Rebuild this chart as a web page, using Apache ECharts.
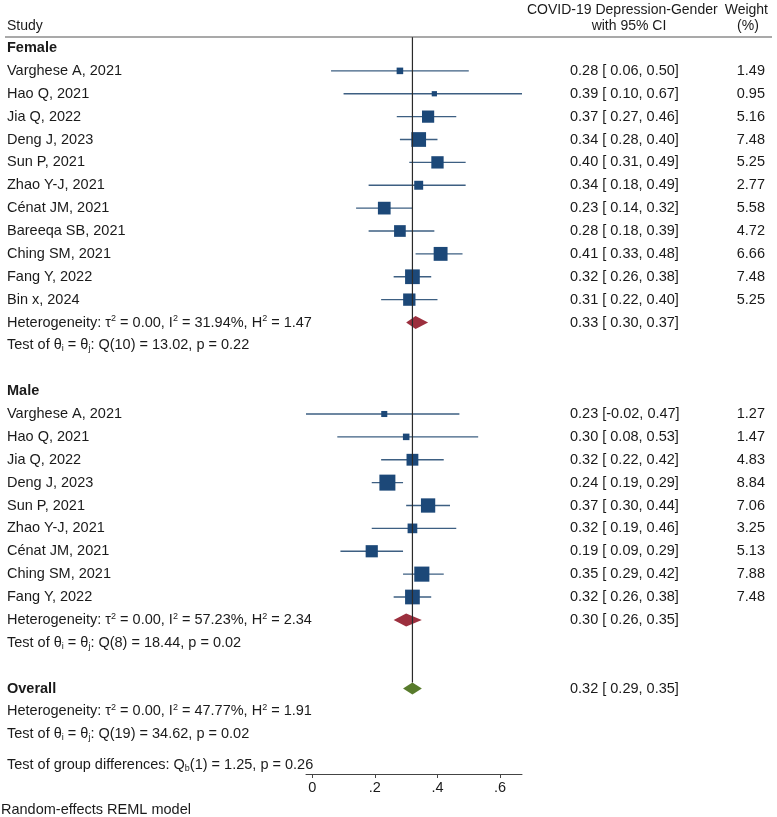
<!DOCTYPE html>
<html>
<head>
<meta charset="utf-8">
<title>COVID-19 Depression-Gender forest plot</title>
<script src="https://cdn.jsdelivr.net/npm/echarts@6.0.0/dist/echarts.min.js"></script>
<style>
    html, body { margin: 0; padding: 0; background: #fff; }
    #chart { width: 777px; height: 817px; }
</style>
</head>
<body>
<div id="chart"></div>
<script>
// ---- data ----
var femaleStudies = ['Varghese A, 2021', 'Hao Q, 2021', 'Jia Q, 2022', 'Deng J, 2023', 'Sun P, 2021', 'Zhao Y-J, 2021',
    'Cénat JM, 2021', 'Bareeqa SB, 2021', 'Ching SM, 2021', 'Fang Y, 2022', 'Bin x, 2024'];
var femaleEst = [0.28, 0.39, 0.37, 0.34, 0.40, 0.34, 0.23, 0.28, 0.41, 0.32, 0.31];
var femaleLow = [0.06, 0.10, 0.27, 0.28, 0.31, 0.18, 0.14, 0.18, 0.33, 0.26, 0.22];
var femaleHigh = [0.50, 0.67, 0.46, 0.40, 0.49, 0.49, 0.32, 0.39, 0.48, 0.38, 0.40];
var femaleWeight = [1.49, 0.95, 5.16, 7.48, 5.25, 2.77, 5.58, 4.72, 6.66, 7.48, 5.25];

var maleStudies = ['Varghese A, 2021', 'Hao Q, 2021', 'Jia Q, 2022', 'Deng J, 2023', 'Sun P, 2021', 'Zhao Y-J, 2021',
    'Cénat JM, 2021', 'Ching SM, 2021', 'Fang Y, 2022'];
var maleEst = [0.23, 0.30, 0.32, 0.24, 0.37, 0.32, 0.19, 0.35, 0.32];
var maleLow = [-0.02, 0.08, 0.22, 0.19, 0.30, 0.19, 0.09, 0.29, 0.26];
var maleHigh = [0.47, 0.53, 0.42, 0.29, 0.44, 0.46, 0.29, 0.42, 0.38];
var maleWeight = [1.27, 1.47, 4.83, 8.84, 7.06, 3.25, 5.13, 7.88, 7.48];

// pooled: [estimate, low, high]
var femalePooled = [0.33, 0.30, 0.37];
var malePooled = [0.30, 0.26, 0.35];
var overallPooled = [0.32, 0.29, 0.35];

var femaleHet = 'Heterogeneity: τ{sup|2} = 0.00, I{sup|2} = 31.94%, H{sup|2} = 1.47';
var femaleTest = 'Test of θ{sub|i} = θ{sub|j}: Q(10) = 13.02, p = 0.22';
var maleHet = 'Heterogeneity: τ{sup|2} = 0.00, I{sup|2} = 57.23%, H{sup|2} = 2.34';
var maleTest = 'Test of θ{sub|i} = θ{sub|j}: Q(8) = 18.44, p = 0.02';
var overallHet = 'Heterogeneity: τ{sup|2} = 0.00, I{sup|2} = 47.77%, H{sup|2} = 1.91';
var overallTest = 'Test of θ{sub|i} = θ{sub|j}: Q(19) = 34.62, p = 0.02';
var groupTest = 'Test of group differences: Q{sub|b}(1) = 1.25, p = 0.26';

var xTicks = [0, 0.2, 0.4, 0.6];
var xTickLabels = ['0', '.2', '.4', '.6'];

// ---- layout ----
var FONT = '"Liberation Sans", Arial, Helvetica, sans-serif';
var FS = 14.5;
var TXT = '#1a1a1a';
var ROW_PX = 22.875, FIRST_ROW_PX = 48, AXIS_PX = 774;
var SEP_SLOT = -0.48;           // header rule
var COL_EST = 570, COL_W = 765;

function ciText(e, lo, hi) {
    return e.toFixed(2) + ' [' + (lo < 0 ? '' : ' ') + lo.toFixed(2) + ', ' + hi.toFixed(2) + ']';
}

// rows in display order
var rows = [];
var slot = 0;
function addStudies(names, est, lo, hi, w) {
    names.forEach(function (n, i) {
        rows.push({slot: slot++, label: n, kind: 'study', est: est[i], lo: lo[i], hi: hi[i], w: w[i]});
    });
}
rows.push({slot: slot++, label: 'Female', bold: true});
addStudies(femaleStudies, femaleEst, femaleLow, femaleHigh, femaleWeight);
rows.push({slot: slot++, label: femaleHet, kind: 'pooled', est: femalePooled[0], lo: femalePooled[1], hi: femalePooled[2], color: '#9c2f3e'});
rows.push({slot: slot++, label: femaleTest});
slot++;
rows.push({slot: slot++, label: 'Male', bold: true});
addStudies(maleStudies, maleEst, maleLow, maleHigh, maleWeight);
rows.push({slot: slot++, label: maleHet, kind: 'pooled', est: malePooled[0], lo: malePooled[1], hi: malePooled[2], color: '#9c2f3e'});
rows.push({slot: slot++, label: maleTest});
slot++;
rows.push({slot: slot++, label: 'Overall', bold: true, kind: 'pooled', est: overallPooled[0], lo: overallPooled[1], hi: overallPooled[2], color: '#587b2c', overall: true});
rows.push({slot: slot++, label: overallHet});
rows.push({slot: slot++, label: overallTest});
rows.push({slot: slot + 0.33, label: groupTest});
var overallSlot = rows.filter(function (r) { return r.overall; })[0].slot;

var studyRows = rows.filter(function (r) { return r.kind === 'study'; });
var pooledRows = rows.filter(function (r) { return r.kind === 'pooled'; });

var rich = {
    sup: {fontSize: 9, lineHeight: 9, verticalAlign: 'top', fontFamily: FONT, fill: TXT},
    sub: {fontSize: 9, lineHeight: 9, verticalAlign: 'bottom', fontFamily: FONT, fill: TXT}
};

function txt(x, y, s, align, bold, size) {
    return {
        type: 'text',
        style: {
            x: x, y: y, text: s, fill: TXT, fontSize: size || FS, fontFamily: FONT,
            fontWeight: bold ? 'bold' : 'normal', lineHeight: 16,
            align: align || 'left', verticalAlign: 'middle', rich: rich
        }
    };
}

var chart = echarts.init(document.getElementById('chart'));

var option = {
    animation: false,
    backgroundColor: '#fff',
    textStyle: {fontFamily: FONT},
    grid: {left: 306, right: 777 - 522, top: 0, bottom: 817 - AXIS_PX},
    xAxis: {
        type: 'value', min: -0.02, max: 0.67, position: 'bottom',
        axisLine: {show: true, onZero: false, lineStyle: {color: '#444', width: 1}},
        axisTick: {show: true, customValues: xTicks, length: 4, lineStyle: {color: '#444'}},
        axisLabel: {
            customValues: xTicks, fontSize: FS, color: TXT, margin: 6, fontFamily: FONT,
            formatter: function (v) {
                for (var i = 0; i < xTicks.length; i++) {
                    if (Math.abs(xTicks[i] - v) < 1e-6) return xTickLabels[i];
                }
                return '';
            }
        },
        splitLine: {show: false}
    },
    yAxis: {
        type: 'value', inverse: true, show: false,
        min: -FIRST_ROW_PX / ROW_PX,
        max: (AXIS_PX - FIRST_ROW_PX) / ROW_PX
    },
    graphic: [
        {type: 'text', left: 1, top: 802, style: {text: 'Random-effects REML model', fontSize: FS, fontFamily: FONT, fill: TXT}}
    ],
    series: [
        {
            // confidence intervals
            type: 'custom', clip: false, z: 2,
            data: studyRows.map(function (r) { return [r.lo, r.hi, r.slot]; }),
            renderItem: function (params, api) {
                var a = api.coord([api.value(0), api.value(2)]);
                var b = api.coord([api.value(1), api.value(2)]);
                return {type: 'line', shape: {x1: a[0], y1: a[1], x2: b[0], y2: b[1]},
                    style: {stroke: '#3d5f82', lineWidth: 1.3}};
            }
        },
        {
            // study weights
            type: 'scatter', symbol: 'rect', z: 3,
            data: studyRows.map(function (r) { return [r.est, r.slot, r.w]; }),
            symbolSize: function (d) { return 5.38 * Math.sqrt(d[2]); },
            itemStyle: {color: '#1c4878', opacity: 1}
        },
        {
            // pooled diamonds
            type: 'custom', clip: false, z: 4,
            data: pooledRows.map(function (r, i) { return [r.lo, r.est, r.hi, r.slot, i]; }),
            renderItem: function (params, api) {
                var r = pooledRows[api.value(4)];
                var h = r.overall ? 6 : 6.5;
                var l = api.coord([api.value(0), api.value(3)]);
                var c = api.coord([api.value(1), api.value(3)]);
                var rr = api.coord([api.value(2), api.value(3)]);
                return {type: 'polygon', shape: {points: [[l[0], l[1]], [c[0], c[1] - h], [rr[0], rr[1]], [c[0], c[1] + h]]},
                    style: {fill: r.color}};
            }
        },
        {
            // overall reference line and header rule
            type: 'custom', clip: false, z: 5,
            data: [[overallPooled[0], SEP_SLOT, overallSlot]],
            renderItem: function (params, api) {
                var top = api.coord([api.value(0), api.value(1)]);
                var bot = api.coord([api.value(0), api.value(2)]);
                return {type: 'group', children: [
                    {type: 'line', shape: {x1: top[0], y1: top[1], x2: bot[0], y2: bot[1] - 6},
                        style: {stroke: '#2a2a2a', lineWidth: 1.2}},
                    {type: 'line', shape: {x1: 5, y1: top[1], x2: 772, y2: top[1]},
                        style: {stroke: '#555', lineWidth: 1.2}}
                ]};
            }
        },
        {
            // text columns
            type: 'custom', clip: false, z: 6, silent: true,
            data: rows.map(function (r, i) { return [i]; }),
            renderItem: function (params, api) {
                var r = rows[api.value(0)];
                var y = api.coord([0, r.slot])[1];
                var kids = [txt(7, y, r.label, 'left', r.bold)];
                if (r.kind) kids.push(txt(COL_EST, y, ciText(r.est, r.lo, r.hi)));
                if (r.kind === 'study') kids.push(txt(COL_W, y, r.w.toFixed(2), 'right'));
                if (api.value(0) === 0) {
                    var y1 = api.coord([0, -1.66])[1], y2 = api.coord([0, -0.96])[1];
                    kids.push(txt(7, y2, 'Study', 'left', false, 14));
                    kids.push(txt(527, y1, 'COVID-19 Depression-Gender', 'left', false, 14));
                    kids.push(txt(768, y1, 'Weight', 'right', false, 14));
                    kids.push(txt(629, y2, 'with 95% CI', 'center', false, 14));
                    kids.push(txt(748, y2, '(%)', 'center', false, 14));
                }
                return {type: 'group', children: kids};
            }
        }
    ]
};

chart.setOption(option);
</script>
</body>
</html>
